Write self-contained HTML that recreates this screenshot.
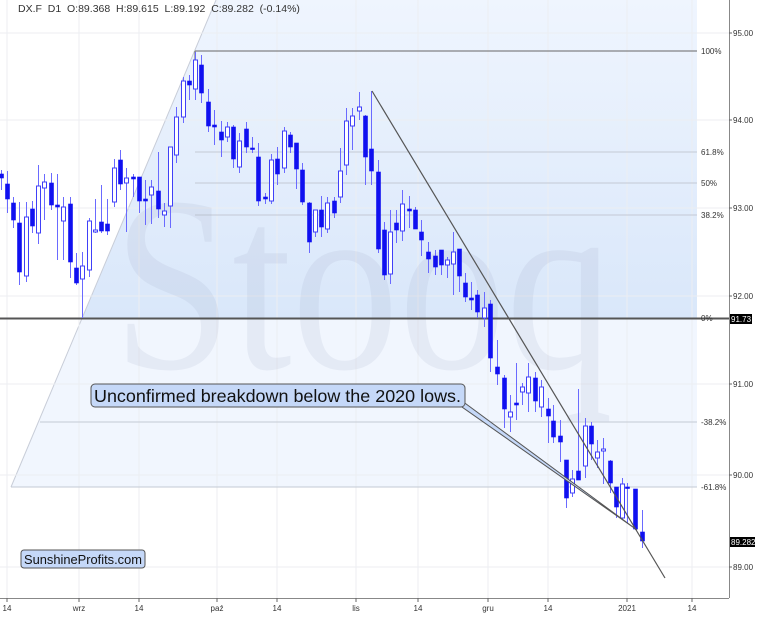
<!DOCTYPE html>
<html><head><meta charset="utf-8"><style>
html,body{margin:0;padding:0;background:#fff;width:768px;height:619px;overflow:hidden}
svg{display:block;font-family:"Liberation Sans",sans-serif}
</style></head><body>
<svg id="c" width="768" height="619" viewBox="0 0 768 619" xmlns="http://www.w3.org/2000/svg">
<defs>
<linearGradient id="g1" x1="0" y1="0" x2="0" y2="1"><stop offset="0" stop-color="#eff5fe"/><stop offset="1" stop-color="#d9e7fa"/></linearGradient>
</defs>
<rect x="0" y="0" width="768" height="619" fill="#fff"/>
<polygon points="216,0 697,0 697,318 82,318" fill="url(#g1)"/>
<polygon points="82,318 697,318 697,487 11,487" fill="#f1f6fe"/>
<line x1="216" y1="0" x2="11" y2="487" stroke="#c8cdd8" stroke-width="1"/>
<g stroke="#eceef2" stroke-width="1">
<line x1="7" y1="0" x2="7" y2="598"/><line x1="79" y1="0" x2="79" y2="598"/><line x1="139" y1="0" x2="139" y2="598"/><line x1="217" y1="0" x2="217" y2="598"/><line x1="277" y1="0" x2="277" y2="598"/><line x1="356" y1="0" x2="356" y2="598"/><line x1="418" y1="0" x2="418" y2="598"/><line x1="488" y1="0" x2="488" y2="598"/><line x1="548" y1="0" x2="548" y2="598"/><line x1="627" y1="0" x2="627" y2="598"/><line x1="692" y1="0" x2="692" y2="598"/>
<line x1="0" y1="33" x2="729" y2="33"/><line x1="0" y1="120" x2="729" y2="120"/><line x1="0" y1="208" x2="729" y2="208"/><line x1="0" y1="296" x2="729" y2="296"/><line x1="0" y1="384" x2="729" y2="384"/><line x1="0" y1="475" x2="729" y2="475"/><line x1="0" y1="567" x2="729" y2="567"/>
</g>
<g stroke="#c3c9d4" stroke-width="1">
<line x1="195" y1="152" x2="697" y2="152"/><line x1="195" y1="183" x2="697" y2="183"/><line x1="195" y1="215" x2="697" y2="215"/>
<line x1="40" y1="422" x2="697" y2="422"/><line x1="11" y1="487" x2="697" y2="487"/>
</g>
<text x="113" y="368" font-family="Liberation Serif,serif" font-size="250" fill="#8f9ab8" fill-opacity="0.13" textLength="500" lengthAdjust="spacingAndGlyphs">Stooq</text>
<line x1="195" y1="51" x2="697" y2="51" stroke="#666" stroke-width="1"/>
<line x1="195" y1="51" x2="195" y2="62" stroke="#666" stroke-width="1"/>
<line x1="0" y1="318.5" x2="729" y2="318.5" stroke="#555" stroke-width="2"/>
<g id="candles"></g>
<line x1="372" y1="91" x2="665" y2="578" stroke="#555" stroke-width="1.2"/>
<polygon points="458,398 462,407 637,530" fill="#c5d8f8" stroke="#555" stroke-width="1"/>
<rect x="91" y="384" width="374" height="23" rx="4" fill="#c5d8f8" stroke="#555" stroke-width="1"/>
<text x="94" y="402" font-size="17.5" fill="#111" textLength="367" lengthAdjust="spacingAndGlyphs">Unconfirmed breakdown below the 2020 lows.</text>
<rect x="21" y="550" width="124" height="18" rx="3" fill="#c5d8f8" stroke="#555" stroke-width="1"/>
<text x="24" y="564" font-size="13" fill="#111" textLength="118" lengthAdjust="spacingAndGlyphs">SunshineProfits.com</text>
<text x="18" y="12" font-size="10.5" fill="#333" xml:space="preserve">DX.F  D1  O:89.368  H:89.615  L:89.192  C:89.282  (-0.14%)</text>
<line x1="729.5" y1="0" x2="729.5" y2="598" stroke="#888"/>
<line x1="0" y1="598.5" x2="729" y2="598.5" stroke="#888"/>
<g font-size="8" fill="#333">
<text x="701" y="54">100%</text><text x="701" y="155">61.8%</text><text x="701" y="186">50%</text><text x="701" y="218">38.2%</text><text x="701" y="321">0%</text><text x="701" y="425">-38.2%</text><text x="701" y="490">-61.8%</text>
<text x="733" y="36">95.00</text><text x="733" y="123">94.00</text><text x="733" y="211">93.00</text><text x="733" y="299">92.00</text><text x="733" y="387">91.00</text><text x="733" y="478">90.00</text><text x="733" y="570">89.00</text>
</g>
<g stroke="#666"><line x1="729" y1="33" x2="732" y2="33"/><line x1="729" y1="120" x2="732" y2="120"/><line x1="729" y1="208" x2="732" y2="208"/><line x1="729" y1="296" x2="732" y2="296"/><line x1="729" y1="384" x2="732" y2="384"/><line x1="729" y1="475" x2="732" y2="475"/><line x1="729" y1="567" x2="732" y2="567"/></g>
<rect x="730" y="314" width="22" height="10" fill="#000"/><text x="731" y="322" font-size="8" fill="#fff">91.73</text>
<rect x="730" y="537" width="25" height="10" fill="#000"/><text x="731" y="545" font-size="8" fill="#fff">89.282</text>
<g font-size="8" fill="#333" text-anchor="middle">
<text x="7" y="611">14</text><text x="79" y="611">wrz</text><text x="139" y="611">14</text><text x="217" y="611">paź</text><text x="277" y="611">14</text><text x="356" y="611">lis</text><text x="418" y="611">14</text><text x="488" y="611">gru</text><text x="548" y="611">14</text><text x="627" y="611">2021</text><text x="692" y="611">14</text>
</g>
<g stroke="#666"><line x1="7" y1="598" x2="7" y2="602"/><line x1="79" y1="598" x2="79" y2="602"/><line x1="139" y1="598" x2="139" y2="602"/><line x1="217" y1="598" x2="217" y2="602"/><line x1="277" y1="598" x2="277" y2="602"/><line x1="356" y1="598" x2="356" y2="602"/><line x1="418" y1="598" x2="418" y2="602"/><line x1="488" y1="598" x2="488" y2="602"/><line x1="548" y1="598" x2="548" y2="602"/><line x1="627" y1="598" x2="627" y2="602"/><line x1="692" y1="598" x2="692" y2="602"/></g>
</svg>
<script>
var d=[
[1,170,190,174,178,1],[7,171,213,184,199,1],[13,197,228,203,220,1],[19,202,285,223,272,1],[26,202,282,217,276,0],[32,201,233,209,226,1],
[38,165,244,186,233,0],[44,174,220,182,188,0],[51,173,210,183,205,1],[57,174,260,205,207,1],[63,197,260,207,221,0],[70,197,278,204,262,1],
[76,253,285,268,283,1],[82,252,318,266,279,0],[89,218,277,221,270,0],[95,199,233,230,232,0],[101,185,233,222,231,1],[107,199,235,224,231,1],
[114,159,207,168,202,0],[120,150,190,160,184,1],[126,168,232,178,183,0],[133,174,197,177,179,1],[139,177,213,177,201,1],[145,180,225,199,201,1],
[151,180,224,187,195,0],[158,152,218,191,209,1],[164,203,227,211,215,0],[170,147,228,147,206,0],[176,107,163,117,155,0],[183,77,123,81,117,0],
[189,75,100,81,85,1],[195,52,100,60,89,0],[201,55,103,65,93,1],[208,89,132,102,126,1],[214,110,145,125,127,1],[221,121,157,132,140,1],
[227,122,142,127,137,0],[233,125,168,127,159,1],[239,133,173,141,167,0],[246,122,153,129,147,1],[252,137,153,148,149,1],[258,143,206,157,201,1],
[265,193,204,197,199,1],[271,154,204,160,201,0],[277,147,185,159,174,1],[284,127,173,131,168,0],[290,132,153,135,147,1],[296,143,189,143,169,1],
[302,163,205,170,202,1],[309,202,253,203,242,1],[315,210,237,210,232,0],[321,196,237,210,227,1],[327,197,233,203,229,0],[334,197,218,201,213,1],
[340,148,203,171,197,0],[346,108,175,121,165,0],[352,108,150,116,126,0],[359,92,120,107,111,0],[365,115,185,116,157,1],[371,91,185,149,171,1],
[378,160,253,172,249,1],[384,222,280,230,275,1],[390,210,284,232,274,0],[396,210,243,223,230,1],[402,190,241,204,231,0],[409,196,228,209,211,1],
[415,207,228,210,229,1],[421,220,256,232,240,1],[428,242,273,252,259,1],[435,250,275,256,267,1],[441,251,275,250,265,1],[447,257,278,260,265,0],
[453,232,295,252,264,0],[459,250,292,249,276,1],[465,273,302,283,297,1],[471,282,310,298,300,1],[477,290,318,295,312,1],[484,292,327,308,318,0],
[490,300,372,304,358,1],[497,340,385,367,374,1],[504,375,428,378,409,1],[510,395,432,412,417,0],[516,363,420,403,405,1],[522,383,405,387,392,0],
[528,363,412,377,393,0],[535,372,412,378,401,1],[541,380,417,387,407,0],[548,398,443,409,416,1],[553,405,443,421,437,1],[560,420,462,436,442,1],
[566,460,508,460,498,1],[572,470,497,479,493,0],[578,389,480,471,480,1],[585,418,478,426,466,0],[591,422,460,426,444,1],[597,440,468,452,458,0],
[603,438,484,449,451,0],[610,460,493,461,483,1],[616,487,518,487,507,1],[622,478,520,484,518,0],[627,483,523,487,488,1],[635,489,530,489,529,1],
[642,510,548,532,541,1]];
var g=document.getElementById('candles'),h='';
d.forEach(function(c){
 h+='<line x1="'+(c[0]+0.5)+'" y1="'+c[1]+'" x2="'+(c[0]+0.5)+'" y2="'+c[2]+'" stroke="#6a6aff" stroke-width="1"/>';
 var bh=Math.max(c[4]-c[3],1.5);
 if(c[5]) h+='<rect x="'+(c[0]-1.5)+'" y="'+c[3]+'" width="4" height="'+bh+'" fill="#1010f0" stroke="#1010f0" stroke-width="0.6"/>';
 else h+='<rect x="'+(c[0]-1.5)+'" y="'+c[3]+'" width="4" height="'+bh+'" fill="#fff" stroke="#4040f8" stroke-width="1"/>';
});
g.innerHTML=h;
</script>
</body></html>
